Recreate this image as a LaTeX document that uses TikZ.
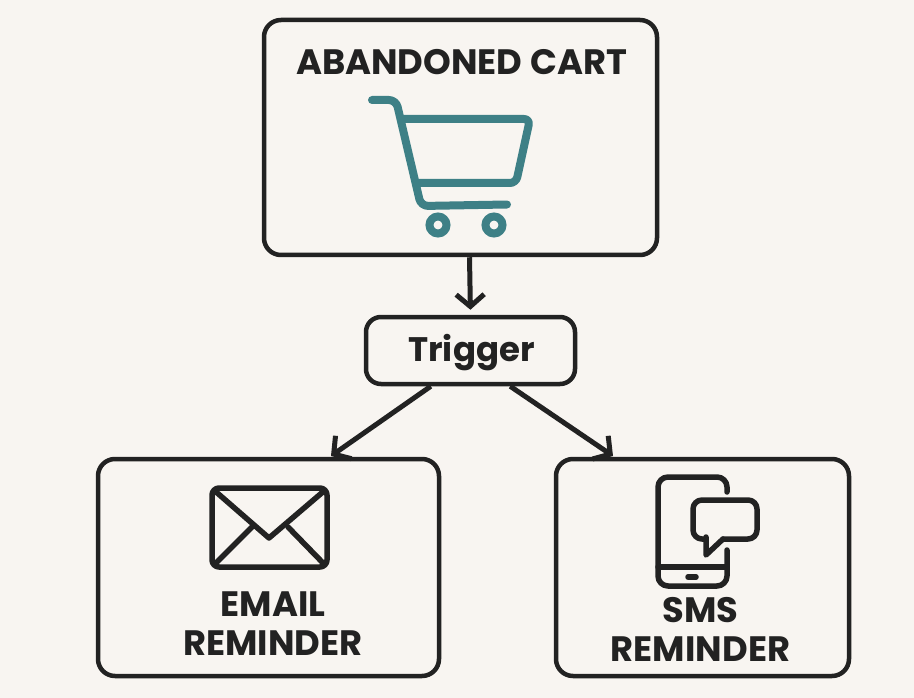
\documentclass[tikz,border=0pt]{standalone}
\usepackage{fontspec}
\setmainfont{Poppins}
\usetikzlibrary{arrows.meta,
                positioning, % For easy node-relative placements
               }
\definecolor{paper}{HTML}{F8F5F1}
\definecolor{ink}{HTML}{222222}
\definecolor{teal}{HTML}{3E8086}
\tikzset{
  box/.style={draw=ink, line width=4.5pt, rounded corners=17pt, inner sep=0pt},
  label/.style={text=ink, font=\fontsize{35.3}{39}\selectfont\bfseries, align=center, inner sep=0pt},
  arrowline/.style={draw=ink, line width=5pt, -{Straight Barb[length=12pt,width=28pt,line width=5pt]}},
  carticon/.style={draw=teal, line width=8pt, line cap=round, line join=round},
  inkicon/.style={draw=ink, line width=5.5pt, line cap=round, line join=round},
}
\begin{document}
\begin{tikzpicture}[x=1pt,y=-1pt]
    \useasboundingbox[fill=paper] (0,0) rectangle (914,698);
    % boxes
    \node[box, minimum width=393pt, minimum height=235pt] (cart) at (460.5,137.5) {};
    \node[box, minimum width=209pt, minimum height=67pt, rounded corners=15pt] (trigger) at (470.5,350.5) {};
    \node[box, minimum width=341pt, minimum height=217pt] (email) at (268.5,567.5) {};
    \node[box, minimum width=293pt, minimum height=217pt] (sms) at (702.5,567.5) {};
    % labels
    \node[label] (cartlabel) at (461.5,62) {ABANDONED CART};
    \node[label, font=\fontsize{34}{39}\selectfont\bfseries] (triggerlabel) at (471.5,353) {Trigger};
    \node[label] (emaillabel) at (273,623.5) {EMAIL\\REMINDER};
    \node[label] (smslabel) at (700.5,629.5) {SMS\\REMINDER};
    % arrows
    \coordinate (emailin) at (331,456);
    \coordinate (smsin) at (613,456);
    \draw[arrowline, shorten >=5pt] (cart.south) ++(9,0) -- (trigger.north);
    \draw[arrowline] (trigger.222) -- (emailin);
    \draw[arrowline] (trigger.318) -- (smsin);
    % cart
    \draw[carticon, rounded corners=7pt] (372,100) -- (396,100) -- (421,206) -- (507,204.5);
    \draw[carticon, rounded corners=6pt] (403,119) -- (530,119) -- (516,183) -- (418,183);
    \draw[draw=teal, line width=8pt] (438,225) circle (8.5pt);
    \draw[draw=teal, line width=8pt] (494,225) circle (8.5pt);
    % envelope
    \draw[inkicon, rounded corners=7pt] (212,488) rectangle (327,567);
    \draw[inkicon] (215,491) -- (269,538) -- (324,491);
    \draw[inkicon] (252,527) -- (215,564);
    \draw[inkicon] (288,527) -- (324,564);
    % phone
    \draw[inkicon, rounded corners=10pt] (727,492) -- (727,477) -- (658,477) -- (658,586) -- (727,586) -- (727,550);
    \draw[inkicon] (658,567) -- (727,567);
    \draw[inkicon] (688,577) -- (696,577);
    \draw[inkicon, rounded corners=9pt] (723,539) -- (757,539) -- (757,500) -- (693,500) -- (693,539) -- (706,539);
    \draw[inkicon] (706,537) -- (706,555) -- (723,539);
\end{tikzpicture}
\end{document}
